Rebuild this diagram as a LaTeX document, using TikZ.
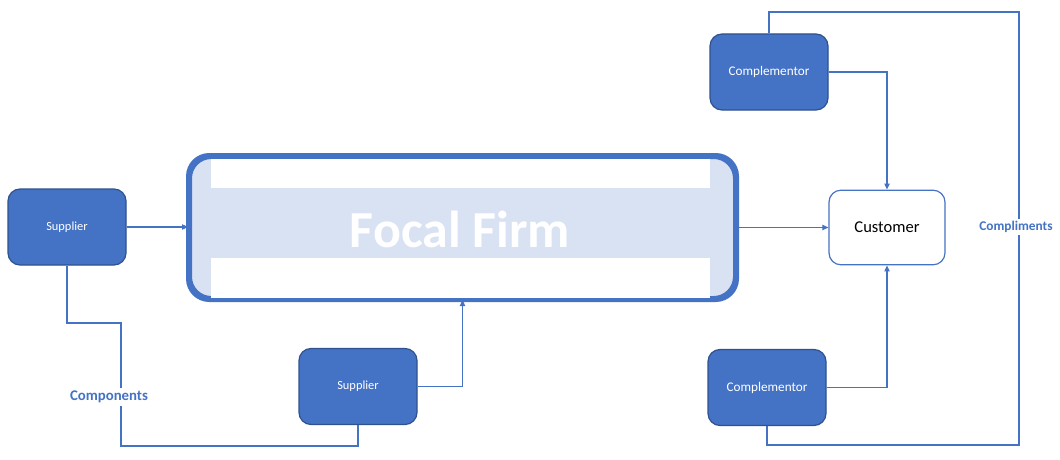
\documentclass[tikz,border=0pt]{standalone}
\usepackage{fontspec}
\setmainfont{Carlito}
\usetikzlibrary{arrows.meta}
\definecolor{boxblue}{HTML}{4472C4}
\definecolor{boxedge}{HTML}{2F528F}
\definecolor{paleblue}{HTML}{D9E2F3}
\begin{document}
\begin{tikzpicture}[x=0.75pt,y=-0.75pt,
  darkbox/.style={draw=boxedge,line width=0.9pt,fill=boxblue,rounded corners=9pt,
    minimum width=88.5pt,minimum height=57pt,inner sep=0pt,text=white},
  custbox/.style={draw=boxblue,line width=0.9pt,fill=white,rounded corners=9pt,
    minimum width=87pt,minimum height=56pt,inner sep=0pt,text=black,font=\fontsize{12.4}{14}\selectfont},
  link/.style={draw=boxblue,line width=0.8pt},
  arr/.style={link,-{Triangle[length=4.5pt,width=4pt]}},
  flowlabel/.style={fill=white,text=boxblue,font=\bfseries\fontsize{11.1}{13}\selectfont,inner sep=2pt}]
\useasboundingbox (0,0) rectangle (1060,460);

% focal firm: pale fill, two white bands, thick border
\node[draw=boxblue,line width=3pt,fill=paleblue,rounded corners=16pt,
  minimum width=408.75pt,minimum height=105.75pt,inner sep=0pt] (focal) at (462.5,227.5) {};
\fill[white] (211,159) rectangle (710,188);
\fill[white] (211,258) rectangle (710,297.5);
\draw[boxblue,line width=3pt,rounded corners=16pt] (focal.south west) rectangle (focal.north east);
\node[text=white,font=\bfseries\fontsize{39}{44}\selectfont] (focaltxt) at (460,229) {Focal Firm};

% surrounding actors
\node[darkbox,font=\fontsize{9.3}{11}\selectfont] (sup1) at (67,227) {Supplier};
\node[darkbox,font=\fontsize{9.3}{11}\selectfont] (sup2) at (358,386.5) {Supplier};
\node[darkbox,font=\fontsize{9.9}{12}\selectfont] (comp1) at (769,72) {Complementor};
\node[darkbox,font=\fontsize{9.9}{12}\selectfont] (comp2) at (767,387.5) {Complementor};
\node[custbox] (cust) at (887,227.5) {Customer};

% flows into the focal firm and the customer
\draw[arr] (sup1.east) -- (sup1.east -| focal.west);
\draw[arr] (sup2.east) -| (focal.south);
\draw[arr] (focal.east |- cust.west) -- (cust.west);
\draw[arr] (comp1.east) -| (cust.north);
\draw[arr] (comp2.east) -| (cust.south);

% components loop between the suppliers
\coordinate (cpA) at (121,323);
\coordinate (cpB) at (121,446);
\draw[link] (sup1.south) |- (cpA) -- (cpB) -| (sup2.south);
\node[flowlabel] (components) at (109,397) {Components};

% compliments loop between the complementors
\coordinate (cmA) at (1019,12);
\coordinate (cmB) at (1019,445);
\draw[link] (comp1.north) |- (cmA) -- (cmB) -| (comp2.south);
\node[flowlabel,font=\bfseries\fontsize{10}{12}\selectfont] (compliments) at (1016,227) {Compliments};
\end{tikzpicture}
\end{document}
